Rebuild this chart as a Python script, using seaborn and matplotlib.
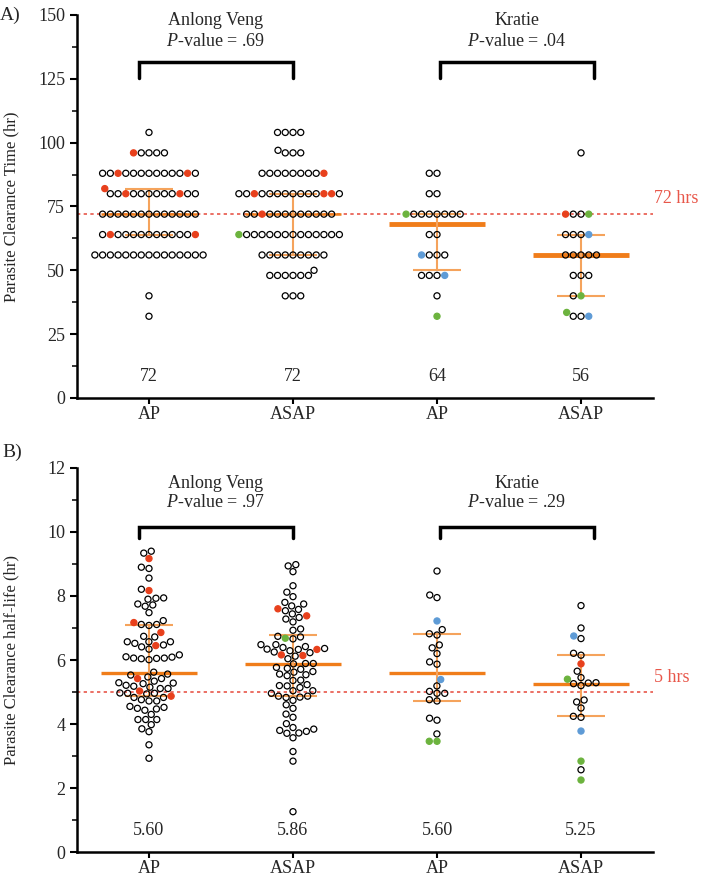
import matplotlib
matplotlib.use("Agg")
import matplotlib.pyplot as plt
import numpy as np
import pandas as pd
import seaborn as sns
from matplotlib.collections import PathCollection
from matplotlib.ticker import MultipleLocator

RED = "#e8401c"
GREEN = "#6cb33e"
BLUE = "#5e9bd6"
ORANGE = "#f07d1a"
ORANGE_LIGHT = "#f5a35c"
LINE_RED = "#e8574a"

groups = ["AV_AP", "AV_ASAP", "KR_AP", "KR_ASAP"]
x_labels = ["AP", "ASAP", "AP", "ASAP"]

# ---- panel A: parasite clearance time (hr), rows of identical values ----
av_ap_rows = [104, 96, 88, 80, 72, 64, 56, 40, 32]
av_ap_counts = [1, 4, 11, 10, 13, 11, 15, 1, 1]
av_ap_red = [96, 88, 88, 82, 80, 80, 64, 64]

av_asap_rows = [104, 97, 96, 88, 80, 72, 64, 56, 50, 48, 40]
av_asap_counts = [4, 1, 3, 8, 11, 11, 13, 9, 1, 6, 3]
av_asap_red = [88, 80, 80, 80, 72]
av_asap_green = [64]

kr_ap_rows = [88, 80, 72, 64, 56, 48, 40]
kr_ap_counts = [2, 2, 7, 2, 3, 3, 1]
kr_ap_green = [72, 32]
kr_ap_blue = [56, 48]

kr_asap_rows = [96, 72, 64, 56, 48, 40, 32]
kr_asap_counts = [1, 2, 3, 5, 3, 1, 2]
kr_asap_red = [72]
kr_asap_green = [72, 40, 33.5]
kr_asap_blue = [64, 32]

a_median_line = [72, 72, 68, 56]
a_q1 = [64, 56, 50, 40]
a_q3 = [82, 80, 72, 64]
a_median_text = ["72", "72", "64", "56"]
a_pvalues = [".69", ".04"]

# ---- panel B: parasite clearance half-life (hr) ----
b_av_ap_open = [9.40, 9.34, 8.90, 8.86, 8.56, 8.21, 7.93, 7.90, 7.94, 7.75, 7.68, 7.72,
                7.48, 7.23, 7.11, 7.08, 7.11, 6.74, 6.72, 6.57, 6.52, 6.34, 6.41, 6.47,
                6.57, 6.57, 6.16, 6.09, 6.06, 6.01, 6.04, 6.05, 6.06, 6.10, 5.62, 5.56,
                5.47, 5.34, 5.42, 5.53, 5.29, 5.26, 5.18, 5.11, 5.11, 5.15, 5.21, 5.28,
                4.97, 4.96, 4.83, 4.72, 4.72, 4.76, 4.83, 4.94, 4.96, 4.55, 4.49, 4.43,
                4.47, 4.52, 4.30, 4.14, 4.14, 4.14, 3.98, 3.76, 3.85, 3.35, 2.93]
b_av_ap_red = [9.17, 8.17, 7.17, 6.86, 6.45, 5.42, 5.03, 4.87]

b_av_asap_open = [8.98, 8.94, 8.76, 8.32, 8.12, 7.98, 7.75, 7.54, 7.58, 7.69, 7.80, 7.33,
                  7.44, 7.28, 7.19, 6.97, 6.93, 6.72, 6.66, 6.74, 6.42, 6.36, 6.29, 6.48,
                  6.23, 6.48, 6.25, 6.33, 6.34, 6.39, 6.12, 6.04, 5.89, 5.88, 5.89, 5.77,
                  5.71, 5.62, 5.54, 5.51, 5.56, 5.64, 5.74, 5.36, 5.19, 5.14, 5.20, 5.23,
                  5.37, 5.04, 5.04, 4.87, 4.84, 4.74, 4.83, 4.87, 4.96, 4.49, 4.60, 4.31,
                  4.21, 4.01, 3.84, 3.77, 3.89, 3.71, 3.57, 3.72, 3.80, 3.14, 2.84, 1.26]
b_av_asap_red = [7.60, 7.38, 6.33, 6.16, 6.14]
b_av_asap_green = [6.68]

b_kr_ap_open = [8.78, 8.03, 7.95, 6.95, 6.82, 6.78, 6.47, 6.38, 6.20, 5.94, 5.87, 5.19,
                4.96, 5.02, 4.96, 4.72, 4.76, 4.18, 4.12, 3.69]
b_kr_ap_blue = [7.22, 5.39]
b_kr_ap_green = [3.46, 3.46]

b_kr_asap_open = [7.70, 7.00, 6.67, 6.21, 6.15, 5.65, 5.45, 5.29, 5.26, 5.20, 5.28, 4.75,
                  4.69, 4.50, 4.24, 4.21, 2.57]
b_kr_asap_blue = [6.75, 3.78]
b_kr_asap_red = [5.88]
b_kr_asap_green = [5.40, 2.84, 2.25]

b_median = [5.60, 5.86, 5.60, 5.25]
b_q1 = [4.89, 4.89, 4.72, 4.24]
b_q3 = [7.09, 6.78, 6.81, 6.15]
b_median_text = ["5.60", "5.86", "5.60", "5.25"]
b_pvalues = [".97", ".29"]


def make_frame(points_by_group):
    records = []
    for group, pts in zip(groups, points_by_group):
        for kind, vals in pts.items():
            for v in vals:
                records.append({"group": group, "value": v, "kind": kind})
    return pd.DataFrame(records)


df_a = make_frame([
    {"open": np.repeat(av_ap_rows, av_ap_counts), "red": av_ap_red},
    {"open": np.repeat(av_asap_rows, av_asap_counts), "red": av_asap_red, "green": av_asap_green},
    {"open": np.repeat(kr_ap_rows, kr_ap_counts), "green": kr_ap_green, "blue": kr_ap_blue},
    {"open": np.repeat(kr_asap_rows, kr_asap_counts), "red": kr_asap_red,
     "green": kr_asap_green, "blue": kr_asap_blue},
])
df_b = make_frame([
    {"open": b_av_ap_open, "red": b_av_ap_red},
    {"open": b_av_asap_open, "red": b_av_asap_red, "green": b_av_asap_green},
    {"open": b_kr_ap_open, "blue": b_kr_ap_blue, "green": b_kr_ap_green},
    {"open": b_kr_asap_open, "blue": b_kr_asap_blue, "red": b_kr_asap_red,
     "green": b_kr_asap_green},
])

sns.set_style("ticks")
plt.rcParams["font.family"] = ["Liberation Serif", "DejaVu Serif"]
plt.rcParams["mathtext.fontset"] = "custom"
plt.rcParams["mathtext.rm"] = "Liberation Serif"
plt.rcParams["mathtext.it"] = "Liberation Serif:italic"

palette = {"open": "white", "red": RED, "green": GREEN, "blue": BLUE}

fig = plt.figure(figsize=(7.03, 8.82), dpi=100)
ax_a = fig.add_axes([0.1095, 0.5488, 0.8194, 0.4342])
ax_b = fig.add_axes([0.1095, 0.0340, 0.8194, 0.4354])


def draw_panel(ax, df, ylim, major, minor, ylabel, med, q1, q3, med_lw, med_text, text_y,
               ref_y, ref_label, ref_label_y, pvals, bracket_top, bracket_leg, site_y, p_y):
    sns.swarmplot(data=df, x="group", y="value", hue="kind", order=groups,
                  hue_order=["open", "red", "green", "blue"], palette=palette,
                  size=4.4, linewidth=0.9, edgecolor="black", legend=False, ax=ax, zorder=3)
    for coll in ax.collections:
        if isinstance(coll, PathCollection):
            fc = coll.get_facecolors().copy()
            white = fc[:, :3].min(axis=1) > 0.98
            ec = fc.copy()
            ec[white] = (0, 0, 0, 1)
            fc[white] = (1, 1, 1, 0)
            coll.set_facecolors(fc)
            coll.set_edgecolors(ec)

    x = np.arange(len(groups))
    ax.axhline(ref_y, color=LINE_RED, lw=1.2, ls=(0, (2, 2)), zorder=1)
    ax.text(3.51, ref_label_y, ref_label, color=LINE_RED, fontsize=13, ha="left",
            va="center", clip_on=False)
    for i in range(len(groups)):
        ax.hlines(med[i], x[i] - 0.33, x[i] + 0.33, color=ORANGE, lw=med_lw[i], zorder=2)
        ax.vlines(x[i], q1[i], q3[i], color=ORANGE_LIGHT, lw=1.5, zorder=2)
        ax.hlines([q1[i], q3[i]], x[i] - 0.165, x[i] + 0.165, color=ORANGE_LIGHT, lw=1.5,
                  zorder=2)
        ax.text(x[i], text_y, med_text[i], fontsize=13, ha="center", va="center")

    brackets = [(-0.07, 1.0), (2.02, 3.09)]
    for (x0, x1), site, pv in zip(brackets, ["Anlong Veng", "Kratie"], pvals):
        ax.plot([x0, x0, x1, x1], [bracket_leg, bracket_top, bracket_top, bracket_leg],
                color="black", lw=2.5, solid_joinstyle="miter", clip_on=False)
        xc = (x0 + x1) / 2
        ax.text(xc, site_y, site, fontsize=13, ha="center", va="center")
        ax.text(xc, p_y, "$\\it{P}$-value = " + pv, fontsize=13, ha="center", va="center")

    ax.set_xlim(-0.5, 3.5)
    ax.set_ylim(*ylim)
    ax.yaxis.set_major_locator(MultipleLocator(major))
    ax.yaxis.set_minor_locator(MultipleLocator(minor))
    ax.set_xticks(x)
    ax.set_xticklabels(x_labels)
    ax.set_xlabel("")
    ax.set_ylabel(ylabel, fontsize=12)
    ax.yaxis.set_label_coords(-0.1, 0.5)
    ax.tick_params(axis="both", which="major", labelsize=13, length=5, width=1.5,
                   direction="out", color="black")
    ax.tick_params(axis="x", which="major", length=4, pad=1.5)
    ax.tick_params(axis="y", which="minor", length=3.5, width=1.3, direction="out")
    for side in ["top", "right"]:
        ax.spines[side].set_visible(False)
    for side in ["left", "bottom"]:
        ax.spines[side].set_linewidth(1.8)
        ax.spines[side].set_color("black")
    ax.set_facecolor("none")


draw_panel(ax_a, df_a, (0, 150), 25, 12.5, "Parasite Clearance Time (hr)",
           a_median_line, a_q1, a_q3, [1.8, 1.8, 3.5, 3.5], a_median_text, 8.4,
           72, "72 hrs", 78, a_pvalues, 131.5, 125.5, 147.8, 139.6)
draw_panel(ax_b, df_b, (0, 12), 2, 1, "Parasite Clearance half-life (hr)",
           b_median, b_q1, b_q3, [2.4, 2.4, 2.4, 2.4], b_median_text, 0.67,
           5, "5 hrs", 5.45, b_pvalues, 10.17, 9.8, 11.53, 10.91)

fig.text(0.0, 1 - 15 / 882, "A)", fontsize=14, ha="left", va="center")
fig.text(0.003, 1 - 452 / 882, "B)", fontsize=14, ha="left", va="center")

fig.savefig("out.png", dpi=100)
